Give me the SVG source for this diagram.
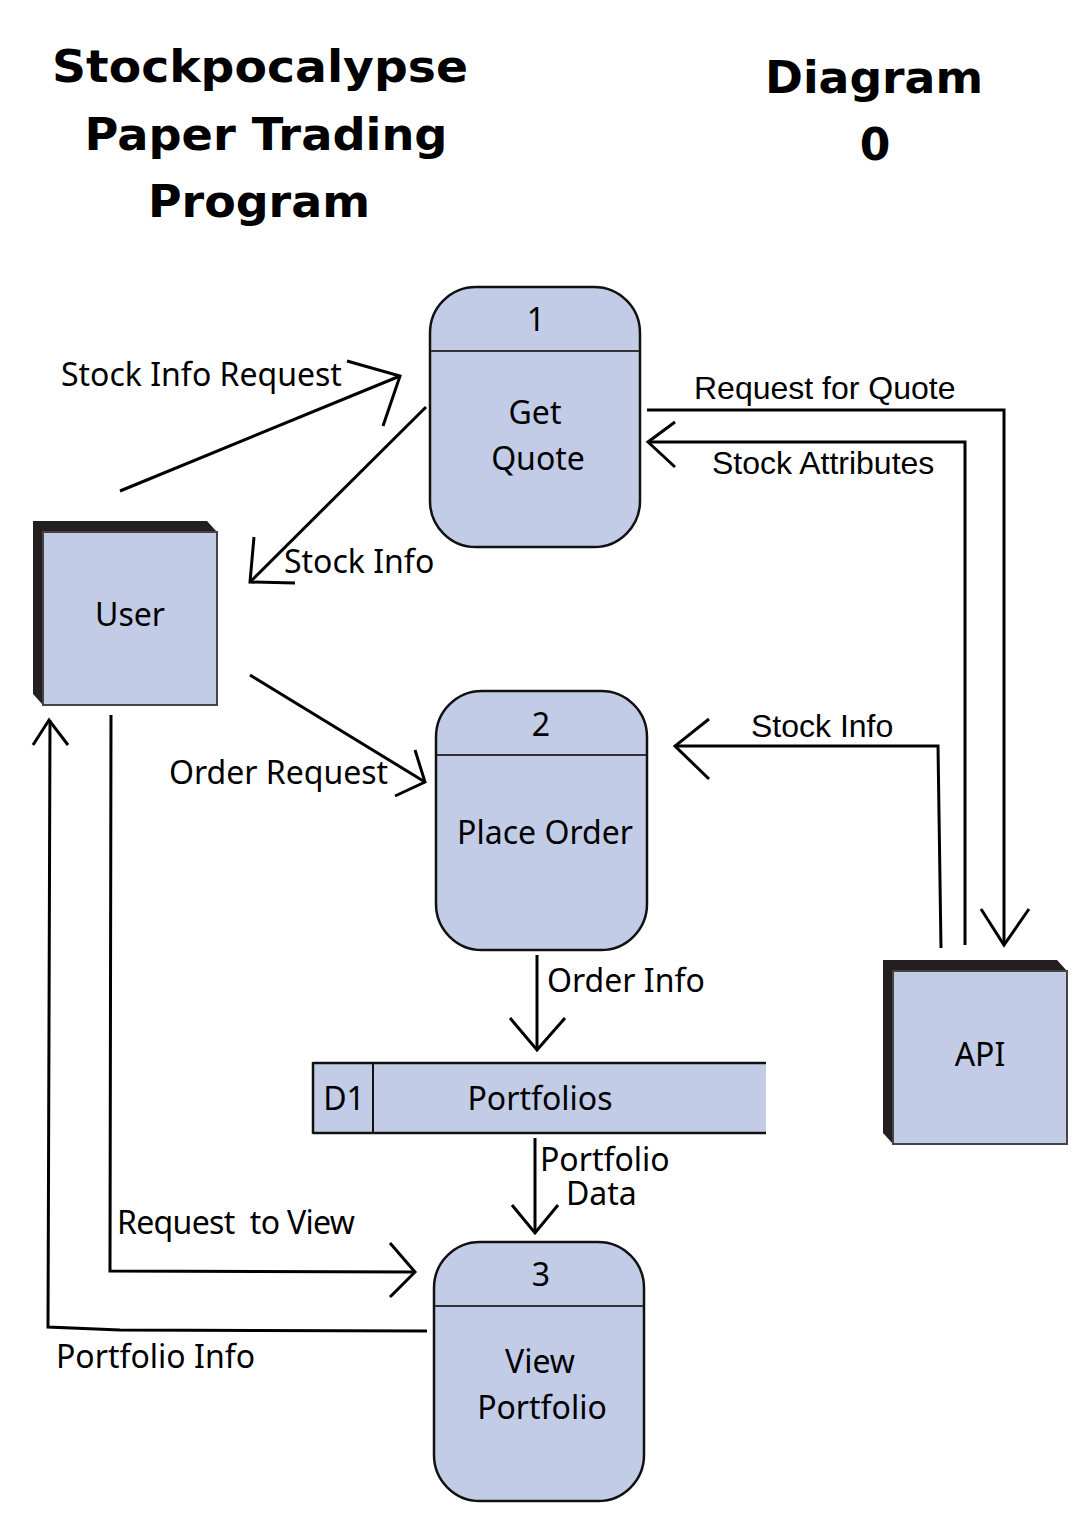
<svg xmlns="http://www.w3.org/2000/svg" width="1080" height="1529" viewBox="0 0 1080 1529">
<style>
.title{font-family:"DejaVu Sans","Liberation Sans",sans-serif;font-weight:bold;font-size:44px;fill:#000;text-anchor:middle}
.proc{fill:#C2CCE6;stroke:#111;stroke-width:2.5}
.div{stroke:#333;stroke-width:2}
.lbl{font-family:"Noto Sans","Open Sans",sans-serif;font-size:32px;fill:#000}
.lblc{font-family:"Noto Sans","Open Sans",sans-serif;font-size:32px;fill:#000;text-anchor:middle}
.arial{font-family:"Liberation Sans",Arial,sans-serif;font-size:32px;fill:#000}
.ln{fill:none;stroke:#000;stroke-width:3;stroke-linejoin:miter}
.ah{fill:none;stroke:#000;stroke-width:3}
.ent{fill:#C2CCE6;stroke:#444;stroke-width:2}
.shadow{fill:#231F20}
</style>

<g id="title">
<text class="title" x="260" y="82" textLength="416" lengthAdjust="spacingAndGlyphs">Stockpocalypse</text>
<text class="title" x="266" y="150" textLength="363" lengthAdjust="spacingAndGlyphs">Paper Trading</text>
<text class="title" x="259" y="217" textLength="222" lengthAdjust="spacingAndGlyphs">Program</text>
<text class="title" x="874" y="93" textLength="218" lengthAdjust="spacingAndGlyphs">Diagram</text>
<text class="title" x="875" y="160">0</text>
</g>

<g id="user">
<polygon class="shadow" points="33,521 207,521 217,532 217,705 43,705 33,694"/>
<rect class="ent" x="43" y="532" width="174" height="173"/>
<text class="lblc" x="130" y="626">User</text>
</g>

<g id="api">
<polygon class="shadow" points="883,960 1057,960 1067,971 1067,1144 893,1144 883,1133"/>
<rect class="ent" x="893" y="971" width="174" height="173"/>
<text class="lblc" x="980" y="1066">API</text>
</g>

<g id="p1">
<rect class="proc" x="430" y="287" width="210" height="260" rx="46" ry="46"/>
<line class="div" x1="431" y1="351" x2="639" y2="351"/>
<text class="lblc" x="536" y="331">1</text>
<text class="lblc" x="535" y="424">Get</text>
<text class="lblc" x="538" y="470">Quote</text>
</g>

<g id="p2">
<rect class="proc" x="436" y="691" width="211" height="259" rx="46" ry="46"/>
<line class="div" x1="437" y1="755" x2="646" y2="755"/>
<text class="lblc" x="541" y="736">2</text>
<text class="lblc" x="545" y="844">Place Order</text>
</g>

<g id="p3">
<rect class="proc" x="434" y="1242" width="210" height="259" rx="46" ry="46"/>
<line class="div" x1="435" y1="1306" x2="643" y2="1306"/>
<text class="lblc" x="541" y="1286">3</text>
<text class="lblc" x="540" y="1373">View</text>
<text class="lblc" x="542" y="1419">Portfolio</text>
</g>

<g id="d1">
<rect x="313" y="1064" width="453" height="68" fill="#C2CCE6"/>
<line x1="313" y1="1063" x2="766" y2="1063" stroke="#111" stroke-width="2.5"/>
<line x1="313" y1="1133" x2="766" y2="1133" stroke="#111" stroke-width="2.5"/>
<line x1="313" y1="1062" x2="313" y2="1134" stroke="#111" stroke-width="2.5"/>
<line x1="373" y1="1063" x2="373" y2="1133" stroke="#111" stroke-width="2"/>
<text class="lblc" x="344" y="1110">D1</text>
<text class="lblc" x="540" y="1110">Portfolios</text>
</g>

<g id="connectors">
<!-- Stock Info Request -->
<line class="ln" x1="120" y1="491" x2="400" y2="376"/>
<polyline class="ah" points="347,361 400,376 383,426"/>
<text class="lbl" x="61" y="386">Stock Info Request</text>
<!-- Stock Info to user -->
<line class="ln" x1="426" y1="407" x2="250" y2="582"/>
<polyline class="ah" points="254,537 250,582 295,583"/>
<text class="lbl" x="284" y="573">Stock Info</text>
<!-- Request for Quote -->
<polyline class="ln" points="647,410 1004,410 1004,945"/>
<polyline class="ah" points="981,909 1004,945 1029,909"/>
<text class="arial" x="694" y="399">Request for Quote</text>
<!-- Stock Attributes -->
<polyline class="ln" points="965,945 965,442 648,442"/>
<polyline class="ah" points="675,422 648,442 675,467"/>
<text class="arial" x="712" y="474">Stock Attributes</text>
<!-- Stock Info from API -->
<polyline class="ln" points="941,948 938,746 675,746"/>
<polyline class="ah" points="709,719 675,746 709,779"/>
<text class="arial" x="751" y="737">Stock Info</text>
<!-- Order Request -->
<line class="ln" x1="250" y1="675" x2="425" y2="782"/>
<polyline class="ah" points="415,750 425,782 395,796"/>
<text class="lbl" x="169" y="784">Order Request</text>
<!-- Order Info -->
<line class="ln" x1="537" y1="955" x2="537" y2="1050"/>
<polyline class="ah" points="510,1018 537,1050 565,1018"/>
<text class="lbl" x="547" y="992">Order Info</text>
<!-- Portfolio Data -->
<line class="ln" x1="535" y1="1138" x2="535" y2="1233"/>
<polyline class="ah" points="512,1205 535,1233 558,1205"/>
<text class="lbl" font-size="31"><tspan x="540" y="1171">Portfolio</tspan><tspan x="566" y="1205">Data</tspan></text>
<!-- Request to View -->
<polyline class="ln" points="111,715 110,1271 415,1272"/>
<polyline class="ah" points="390,1243 415,1272 390,1297"/>
<text class="lbl" x="117" y="1234" xml:space="preserve" textLength="238">Request  to View</text>
<!-- Portfolio Info -->
<polyline class="ln" points="427,1331 120,1330 48,1327 50,720"/>
<polyline class="ah" points="33,745 49,720 68,745"/>
<text class="lbl" x="56" y="1368">Portfolio Info</text>
</g>
</svg>
